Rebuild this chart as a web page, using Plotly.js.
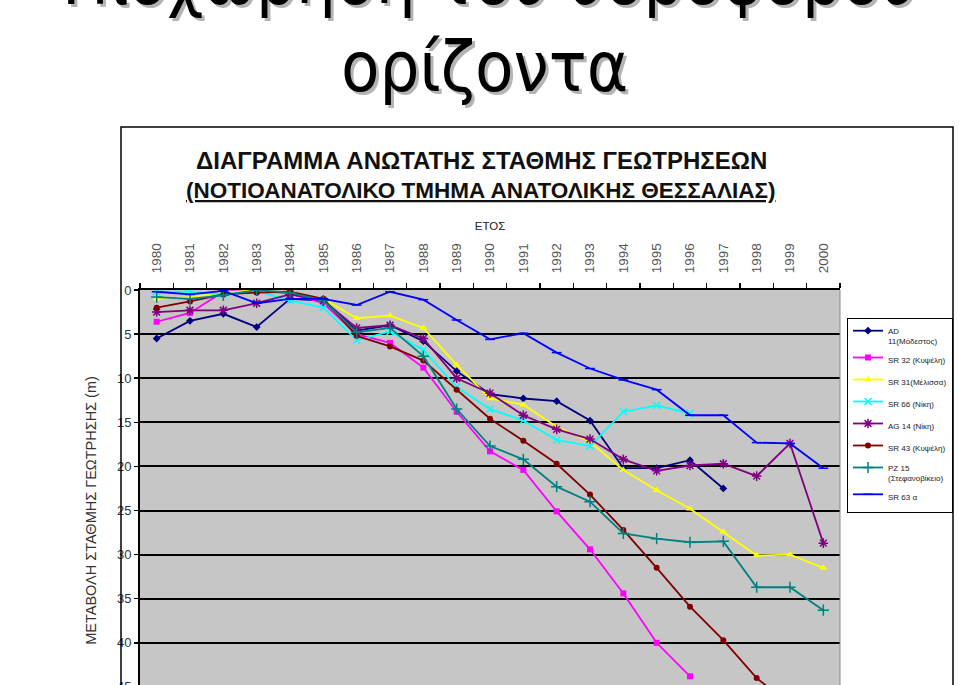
<!DOCTYPE html>
<html>
<head>
<meta charset="utf-8">
<script src="https://cdn.plot.ly/plotly-3.0.1.min.js"></script>
<style>
html,body{margin:0;padding:0;background:#fff;overflow:hidden;}
#wrap{width:959px;height:685px;overflow:hidden;position:relative;}
</style>
</head>
<body>
<div id="wrap"><div id="chart"></div></div>
<script>
// Years (category axis)
const years = ["1980","1981","1982","1983","1984","1985","1986","1987","1988","1989","1990",
               "1991","1992","1993","1994","1995","1996","1997","1998","1999","2000"];

// Series names
const seriesNames = ["AD<br>11(Μόδεστος)","SR 32 (Κυψέλη)","SR 31(Μέλισσα)","SR 66 (Νίκη)",
                     "AG 14 (Νίκη)","SR 43 (Κυψέλη)","PZ 15<br>(Στεφανοβίκειο)","SR 63 α"];

// Water level change (m)
const ad11 = [5.5,3.5,2.7,4.2,1.0,1.2,4.6,4.0,5.8,9.2,11.8,12.3,12.6,14.8,20.2,20.2,19.3,22.5,null,null,null];
const sr32 = [3.6,2.6,0.2,0.0,0.4,1.5,5.0,6.0,8.8,13.8,18.3,20.4,25.1,29.4,34.4,40.0,43.8,null,null,null,null];
const sr31 = [1.0,0.8,0.3,0.0,0.3,1.0,3.2,2.9,4.3,8.5,12.3,13.0,15.5,17.2,20.4,22.7,24.8,27.4,30.1,30.0,31.5];
const sr66 = [0.2,0.2,0.5,0.1,1.2,2.0,5.7,4.7,6.8,11.0,13.5,14.8,17.0,17.7,13.8,13.1,14.0,null,null,null,null];
const ag14 = [2.5,2.3,2.3,1.5,0.5,1.2,4.3,4.0,5.5,10.0,11.7,14.2,15.8,16.9,19.2,20.5,19.9,19.7,21.1,17.4,28.7];
const sr43 = [2.0,1.3,0.5,0.3,0.2,1.0,5.2,6.4,8.0,11.3,14.6,17.1,19.7,23.2,27.2,31.5,35.9,39.7,44.0,47.0,null];
const pz15 = [0.8,1.0,0.6,0.0,0.3,1.2,4.8,4.3,7.5,13.5,17.7,19.2,22.3,24.0,27.6,28.2,28.6,28.5,33.7,33.7,36.3];
const sr63 = [0.2,0.5,0.1,1.5,1.0,1.0,1.7,0.2,1.1,3.4,5.6,4.9,7.1,8.9,10.2,11.3,14.2,14.2,17.3,17.4,20.2];

const seriesValues = [ad11, sr32, sr31, sr66, ag14, sr43, pz15, sr63];

// Y axis ticks
const yTicks = [0,5,10,15,20,25,30,35,40,45,50];

// Styles
const colors  = ["#000080","#FF00FF","#FFFF00","#00FFFF","#800080","#800000","#008080","#0000FF"];
const symbols = ["diamond","square","triangle-up","x-thin-open","asterisk-open","circle","cross-thin-open","line-ew-open"];
const sizes   = [6,6,7,7,8,6,8,7];

const traces = seriesValues.map((vals, i) => {
  const lineSym = symbols[i].indexOf("open") >= 0;
  return {
    type: "scatter",
    mode: "lines+markers",
    name: seriesNames[i],
    legendgroup: "g" + i,
    x: years,
    y: vals,
    connectgaps: false,
    line: {color: colors[i], width: 1.8},
    marker: {
      symbol: symbols[i],
      size: sizes[i],
      color: colors[i],
      line: {color: colors[i], width: lineSym ? 1.5 : 0}
    }
  };
});

const H = 731, T = 290, L = 140, PW = 700;
const py = p => (H - p) / (H - T);   // pixel y -> paper y
const px = p => (p - L) / PW;        // pixel x -> paper x

const slideFont = {family: "DejaVu Sans Condensed, DejaVu Sans, sans-serif", size: 70, color: "#000",
                   shadow: "3px 3px 0px #b4b4b4"};
const titleFont = {family: "Liberation Sans, Arial, sans-serif", size: 24, color: "#111", weight: 700};
const titleFont2 = {family: "Liberation Sans, Arial, sans-serif", size: 22.5, color: "#111", weight: 700};

const layout = {
  width: 959,
  height: H,
  margin: {l: L, r: 959 - L - PW, t: T, b: 0, autoexpand: false},
  paper_bgcolor: "#ffffff",
  plot_bgcolor: "#c6c6c6",
  font: {family: "Liberation Sans, Arial, sans-serif", color: "#222"},
  showlegend: true,
  xaxis: {
    type: "category",
    side: "top",
    range: [-0.5, 20.5],
    tickangle: -90,
    ticks: "outside",
    ticklen: 5,
    tickwidth: 1.5,
    tickcolor: "#000",
    tickson: "boundaries",
    ticklabelstandoff: 12,
    showline: true,
    linecolor: "#000",
    linewidth: 2,
    showgrid: false,
    zeroline: false,
    tickfont: {family: "Liberation Sans, Arial, sans-serif", size: 13.5, color: "#555"},
    title: {text: "ΕΤΟΣ", font: {family: "Liberation Sans, Arial, sans-serif", size: 11.5, color: "#222"}, standoff: 10},
    fixedrange: true
  },
  yaxis: {
    range: [50, 0],
    tickvals: yTicks,
    ticks: "outside",
    ticklen: 4,
    tickwidth: 1.5,
    tickcolor: "#000",
    showline: true,
    linecolor: "#000",
    linewidth: 2,
    showgrid: true,
    gridcolor: "#000",
    gridwidth: 2,
    zeroline: false,
    tickfont: {family: "Liberation Sans, Arial, sans-serif", size: 13, color: "#333"},
    title: {text: "ΜΕΤΑΒΟΛΗ ΣΤΑΘΜΗΣ ΓΕΩΤΡΗΣΗΣ (m)", font: {family: "Liberation Sans, Arial, sans-serif", size: 14.5, color: "#333"}, standoff: 17},
    fixedrange: true
  },
  legend: {
    x: px(847), y: py(318), xanchor: "left", yanchor: "top",
    bgcolor: "#ffffff", bordercolor: "#000", borderwidth: 1,
    font: {family: "Liberation Sans, Arial, sans-serif", size: 8, color: "#222"},
    tracegroupgap: 3,
    itemwidth: 30,
    valign: "top"
  },
  shapes: [
    {type: "rect", xref: "paper", yref: "paper", x0: px(121), x1: px(953), y0: -0.1, y1: py(127),
     line: {color: "#000", width: 1.5}, fillcolor: "rgba(0,0,0,0)", layer: "above"},
    {type: "line", xref: "paper", yref: "paper", x0: 1, x1: 1, y0: 0, y1: 1,
     line: {color: "#8a8a8a", width: 1}, layer: "above"}
  ],
  annotations: [
    {text: "Υποχώρηση του υδροφόρου", xref: "paper", yref: "paper", x: px(484), y: py(-20), showarrow: false,
     xanchor: "center", yanchor: "middle", font: slideFont},
    {text: "ορίζοντα", xref: "paper", yref: "paper", x: px(484), y: py(67), showarrow: false,
     xanchor: "center", yanchor: "middle", font: slideFont},
    {text: "ΔΙΑΓΡΑΜΜΑ ΑΝΩΤΑΤΗΣ ΣΤΑΘΜΗΣ ΓΕΩΤΡΗΣΕΩΝ", xref: "paper", yref: "paper", x: px(481), y: py(161), showarrow: false,
     xanchor: "center", yanchor: "middle", font: titleFont},
    {text: "<u>(ΝΟΤΙΟΑΝΑΤΟΛΙΚΟ ΤΜΗΜΑ ΑΝΑΤΟΛΙΚΗΣ ΘΕΣΣΑΛΙΑΣ)</u>", xref: "paper", yref: "paper", x: px(481), y: py(190), showarrow: false,
     xanchor: "center", yanchor: "middle", font: titleFont2}
  ]
};

Plotly.newPlot("chart", traces, layout, {staticPlot: true, displayModeBar: false});
</script>
</body>
</html>
